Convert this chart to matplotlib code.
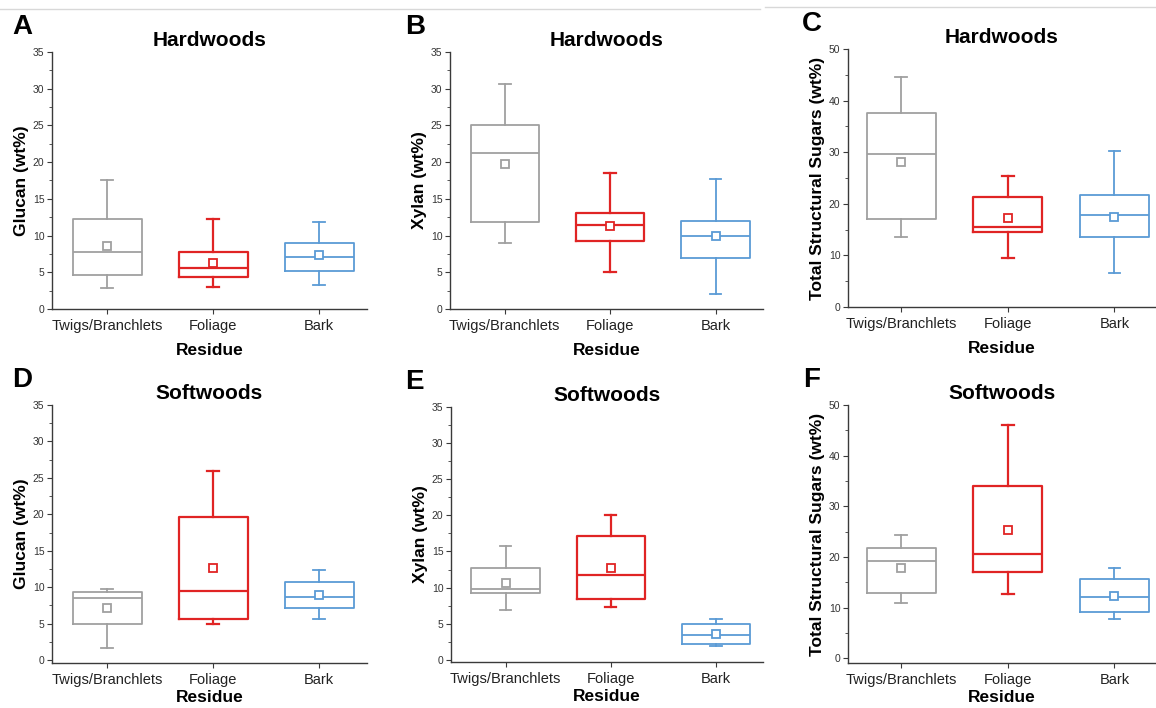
import matplotlib
matplotlib.use("Agg")
import matplotlib.pyplot as plt
from matplotlib.lines import Line2D
from matplotlib.ticker import MultipleLocator

plt.rcParams['font.family'] = ['Liberation Sans', 'DejaVu Sans']

residues = ["Twigs/Branchlets", "Foliage", "Bark"]
colors = ["#a0a0a0", "#e02424", "#5b9bd5"]

# per residue: whisker low, Q1, median, Q3, whisker high, mean
hw_glucan = [[2.8, 4.6, 7.8, 12.3, 17.6, 8.6],
             [3.0, 4.4, 5.6, 7.8, 12.2, 6.3],
             [3.3, 5.2, 7.1, 9.0, 11.8, 7.3]]
hw_xylan = [[9.0, 11.8, 21.3, 25.0, 30.7, 19.7],
            [5.1, 9.2, 11.5, 13.1, 18.5, 11.3],
            [2.0, 7.0, 10.0, 12.0, 17.7, 10.0]]
hw_total = [[13.6, 17.0, 29.7, 37.6, 44.6, 28.1],
            [9.4, 14.6, 15.5, 21.3, 25.4, 17.3],
            [6.5, 13.5, 17.9, 21.7, 30.3, 17.4]]
sw_glucan = [[1.6, 5.0, 8.5, 9.3, 9.8, 7.1],
             [5.0, 5.6, 9.5, 19.7, 25.9, 12.6],
             [5.6, 7.1, 8.6, 10.7, 12.3, 8.9]]
sw_xylan = [[6.9, 9.2, 9.8, 12.7, 15.7, 10.7],
            [7.3, 8.4, 11.7, 17.2, 20.1, 12.7],
            [1.9, 2.2, 3.4, 4.9, 5.6, 3.6]]
sw_total = [[11.0, 13.0, 19.2, 21.7, 24.3, 17.9],
            [12.8, 17.1, 20.7, 34.0, 46.0, 25.3],
            [7.8, 9.2, 12.2, 15.6, 17.9, 12.4]]

W, H = 1156, 708
fig = plt.figure(figsize=(W / 100, H / 100), dpi=100)

# thin grey line at the top of the picture
fig.add_artist(Line2D([0, 760 / W], [1 - 9 / H, 1 - 9 / H], color="#d8d8d8", lw=1))
fig.add_artist(Line2D([765 / W, 1], [1 - 7 / H, 1 - 7 / H], color="#d8d8d8", lw=1))

# (letter, title, ylabel, data, ymax, ymin, px box left/right/top/bottom, xlim, letter pos, xlabel pad)
panels = [
    ("A", "Hardwoods", "Glucan (wt%)", hw_glucan, 35, 0, (52, 367, 52, 309), (0.48, 3.45), (12, 34), 7),
    ("B", "Hardwoods", "Xylan (wt%)", hw_xylan, 35, 0, (450, 763, 52, 309), (0.48, 3.45), (405, 34), 7),
    ("C", "Hardwoods", "Total Structural Sugars (wt%)", hw_total, 50, 0, (848, 1156, 49, 307), (0.5, 3.39), (802, 31), 7),
    ("D", "Softwoods", "Glucan (wt%)", sw_glucan, 35, -0.4, (52, 367, 405, 663), (0.48, 3.45), (12, 387), 2),
    ("E", "Softwoods", "Xylan (wt%)", sw_xylan, 35, -0.3, (451, 763, 407, 662), (0.48, 3.45), (405, 389), 2),
    ("F", "Softwoods", "Total Structural Sugars (wt%)", sw_total, 50, -0.9, (848, 1156, 405, 663), (0.5, 3.39), (803, 387), 2),
]

for letter, title, ylabel, data, ymax, ymin, box, xlim, lpos, xpad in panels:
    l, r, t, b = box
    ax = fig.add_axes([l / W, 1 - b / H, (r - l) / W, (b - t) / H])
    stats = []
    for name, s in zip(residues, data):
        stats.append(dict(label=name, whislo=s[0], q1=s[1], med=s[2], q3=s[3],
                          whishi=s[4], mean=s[5]))
    art = ax.bxp(stats, positions=[1, 2, 3], widths=0.65, capwidths=0.11,
                 showmeans=True, showfliers=False, patch_artist=False)
    for i, c in enumerate(colors):
        lw = 1.6 if i == 1 else 1.3
        art['boxes'][i].set(color=c, lw=lw)
        art['medians'][i].set(color=c, lw=lw)
        for k in (2 * i, 2 * i + 1):
            art['whiskers'][k].set(color=c, lw=lw)
            art['caps'][k].set(color=c, lw=lw)
        art['means'][i].set(marker='s', markerfacecolor='white', markeredgecolor=c,
                            markersize=5.5, markeredgewidth=1.3)
    ax.set_xlim(*xlim)
    ax.set_ylim(ymin, ymax)
    ax.yaxis.set_major_locator(MultipleLocator(5 if ymax == 35 else 10))
    ax.yaxis.set_minor_locator(MultipleLocator(2.5 if ymax == 35 else 5))
    ax.spines['top'].set_visible(False)
    ax.spines['right'].set_visible(False)
    for sp in ('left', 'bottom'):
        ax.spines[sp].set_color("#3a3a3a")
        ax.spines[sp].set_linewidth(1.0)
    ax.tick_params(axis='y', which='major', labelsize=7.5, length=3.5, color="#3a3a3a", labelcolor="#333333", pad=2)
    ax.tick_params(axis='y', which='minor', length=2, color="#3a3a3a")
    ax.tick_params(axis='x', labelsize=10.5, length=3.5, color="#3a3a3a", labelcolor="#222222", pad=4)
    ax.set_xticks([1, 2, 3])
    ax.set_xticklabels(residues)
    ax.set_xlabel("Residue", fontsize=12.5, fontweight='bold', labelpad=xpad)
    ax.set_ylabel(ylabel, fontsize=12.5, fontweight='bold', labelpad=3)
    ax.set_title(title, fontsize=15, fontweight='bold', pad=4)
    fig.text(lpos[0] / W, 1 - lpos[1] / H, letter, fontsize=20, fontweight='bold')

fig.savefig("out.png", dpi=100)
